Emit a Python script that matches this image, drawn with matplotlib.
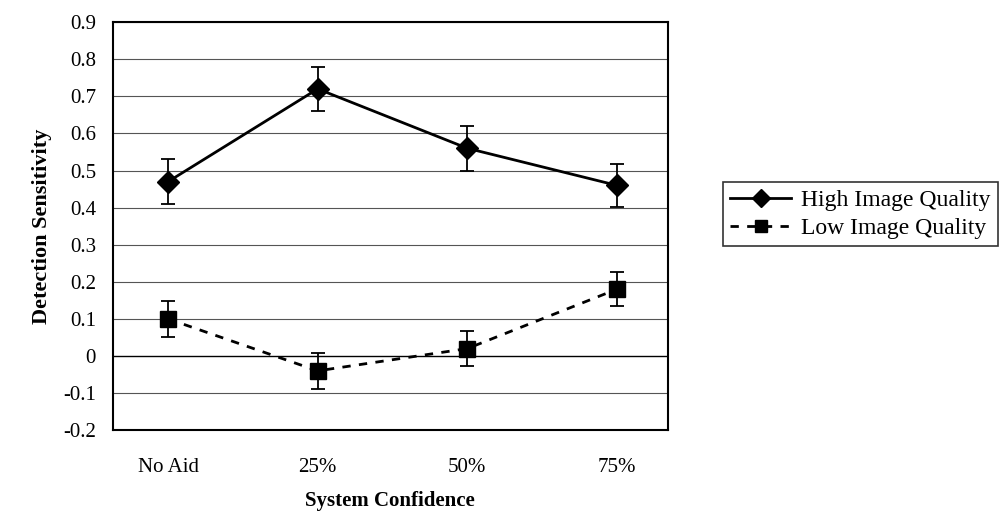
import matplotlib.pyplot as plt
from matplotlib.lines import Line2D

conditions = ['No Aid', '25%', '50%', '75%']
high_quality = [0.47, 0.72, 0.56, 0.46]
high_err = [0.06, 0.06, 0.06, 0.058]
low_quality = [0.10, -0.04, 0.02, 0.18]
low_err = [0.048, 0.048, 0.048, 0.046]
y_ticks = [-0.2, -0.1, 0, 0.1, 0.2, 0.3, 0.4, 0.5, 0.6, 0.7, 0.8, 0.9]

plt.rcParams['font.family'] = ['Liberation Serif', 'DejaVu Serif']

fig = plt.figure(figsize=(10.07, 5.14), dpi=100)
ax = fig.add_axes([0.112, 0.163, 0.551, 0.794])

x = list(range(len(conditions)))

for yv in y_ticks:
    ax.axhline(yv, color='black' if yv == 0 else '#555555',
               lw=1.0 if yv == 0 else 0.8, zorder=1)

ax.errorbar(x, high_quality, yerr=high_err, color='black', lw=2,
            marker='D', markersize=11, capsize=5, elinewidth=1.3,
            capthick=1.3, zorder=3)
ax.errorbar(x, low_quality, yerr=low_err, color='black', lw=2,
            ls=(0, (3, 3)), marker='s', markersize=11, capsize=5,
            elinewidth=1.3, capthick=1.3, zorder=3)

ax.set_xlim(-0.37, 3.34)
ax.set_ylim(-0.2, 0.9)
ax.set_yticks(y_ticks)
ax.set_yticklabels(['-0.2', '-0.1', '0', '0.1', '0.2', '0.3', '0.4',
                    '0.5', '0.6', '0.7', '0.8', '0.9'], fontsize=15)
ax.set_xticks(x)
ax.set_xticklabels(conditions, fontsize=15)
ax.tick_params(length=0, pad=12)
ax.tick_params(axis='x', pad=20)
for s in ax.spines.values():
    s.set_linewidth(1.5)

ax.set_xlabel('System Confidence', fontsize=15, fontweight='bold', labelpad=10)
ax.set_ylabel('Detection Sensitivity', fontsize=16, fontweight='bold', labelpad=8)

handles = [
    Line2D([], [], color='black', lw=2, marker='D', markersize=9),
    Line2D([], [], color='black', lw=2, ls=(0, (3, 3)), marker='s', markersize=9),
]
labels = ['High Image Quality', 'Low Image Quality']
leg = fig.legend(handles, labels, loc='center left',
                 bbox_to_anchor=(0.718, 0.583), fontsize=17, frameon=True,
                 fancybox=False, edgecolor='black', borderpad=0.3,
                 handlelength=2.6, handletextpad=0.4, labelspacing=0.3,
                 borderaxespad=0)
leg.get_frame().set_linewidth(1.2)

fig.savefig('out.png', dpi=100)
